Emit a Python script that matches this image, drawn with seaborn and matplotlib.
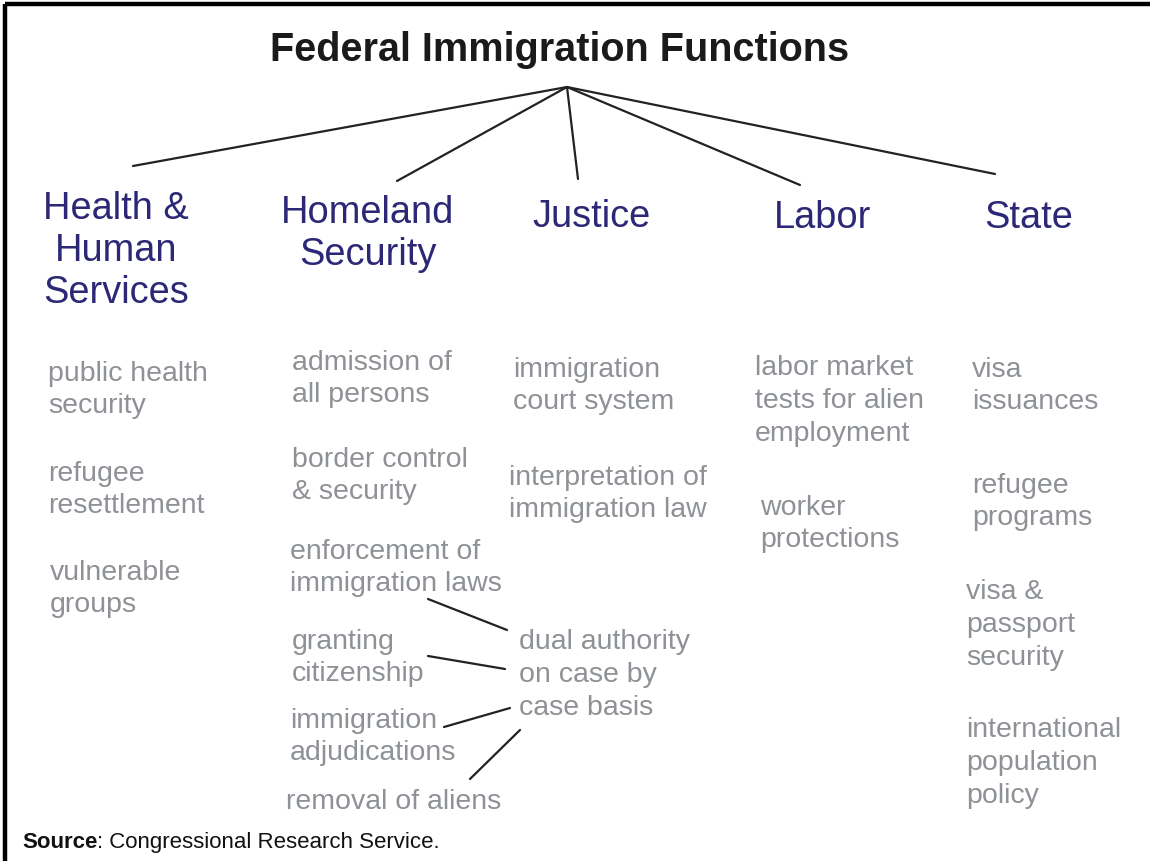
import matplotlib
matplotlib.use("Agg")
import matplotlib.pyplot as plt
import seaborn as sns
import pandas as pd

sns.set_theme(style="white")
plt.rcParams['font.family'] = ['Liberation Sans', 'DejaVu Sans']

# ---------------- data ----------------
title = "Federal Immigration Functions"
departments = ["Health &\nHuman\nServices", "Homeland\nSecurity", "Justice", "Labor", "State"]
dept_x = [116, 368, 592, 823, 1029]
dept_y = [251, 234, 217, 218, 218]

# functions: (text, left x, center y)
func_text = [
    "public health\nsecurity", "refugee\nresettlement", "vulnerable\ngroups",
    "admission of\nall persons", "border control\n& security", "enforcement of\nimmigration laws",
    "granting\ncitizenship", "immigration\nadjudications", "removal of aliens",
    "immigration\ncourt system", "interpretation of\nimmigration law",
    "dual authority\non case by\ncase basis",
    "labor market\ntests for alien\nemployment", "worker\nprotections",
    "visa\nissuances", "refugee\nprograms", "visa &\npassport\nsecurity",
    "international\npopulation\npolicy",
]
func_x = [48, 48, 50, 292, 292, 290, 292, 290, 286, 513, 509, 519, 755, 760, 972, 972, 966, 966]
func_y = [390, 490, 589, 379, 476, 568, 658, 737, 802, 386, 494, 675, 401, 524, 386, 502, 625, 763]

# connectors: apex to departments, and dual-authority links
tree_x0 = [567, 567, 567, 567, 567]
tree_y0 = [88, 88, 88, 88, 88]
tree_x1 = [133, 397, 578, 800, 995]
tree_y1 = [167, 182, 180, 186, 175]
dual_x0 = [428, 428, 444, 470]
dual_y0 = [600, 657, 728, 780]
dual_x1 = [507, 505, 510, 520]
dual_y1 = [631, 670, 709, 731]

source_bold = "Source"
source_rest = ": Congressional Research Service."

DEPT_COLOR = "#2c2876"
FUNC_COLOR = "#8e9195"

# ---------------- figure ----------------
fig = plt.figure(figsize=(11.5, 8.62), dpi=100)
ax = fig.add_axes([0, 0, 1, 1])

# connectors via seaborn
rows = []
seg = 0
for xs0, ys0, xs1, ys1 in [(tree_x0, tree_y0, tree_x1, tree_y1),
                           (dual_x0, dual_y0, dual_x1, dual_y1)]:
    for a, b, c, d in zip(xs0, ys0, xs1, ys1):
        rows.append({"x": a, "y": b, "seg": seg})
        rows.append({"x": c, "y": d, "seg": seg})
        seg += 1
df = pd.DataFrame(rows)
sns.lineplot(data=df, x="x", y="y", units="seg", estimator=None, sort=False,
             color="#222222", linewidth=1.6, ax=ax, legend=False)
ax.set_xlim(0, 1150)
ax.set_ylim(862, 0)
ax.axis("off")

# border (top and left)
ax.plot([5, 1150], [5, 5], color="black", linewidth=3.2, solid_capstyle="butt")
ax.plot([5, 5], [5, 862], color="black", linewidth=3.2, solid_capstyle="butt")

# title
ax.text(560, 50, title, ha="center", va="center", fontsize=28.5,
        fontweight="bold", color="#1a1a1a")

# departments
for t, x, y in zip(departments, dept_x, dept_y):
    ax.text(x, y, t, ha="center", va="center", fontsize=27.4, color=DEPT_COLOR,
            linespacing=1.22, multialignment="center")

# functions
for t, x, y in zip(func_text, func_x, func_y):
    ax.text(x, y, t, ha="left", va="center", fontsize=20.5, color=FUNC_COLOR,
            linespacing=1.34)

# source
s = ax.text(22, 843, source_bold, ha="left", va="center", fontsize=16,
            fontweight="bold", color="#111111")
ax.annotate(source_rest, xy=(1, 0), xycoords=s, ha="left", va="bottom",
            fontsize=16, color="#111111")

fig.savefig("out.png", dpi=100)
